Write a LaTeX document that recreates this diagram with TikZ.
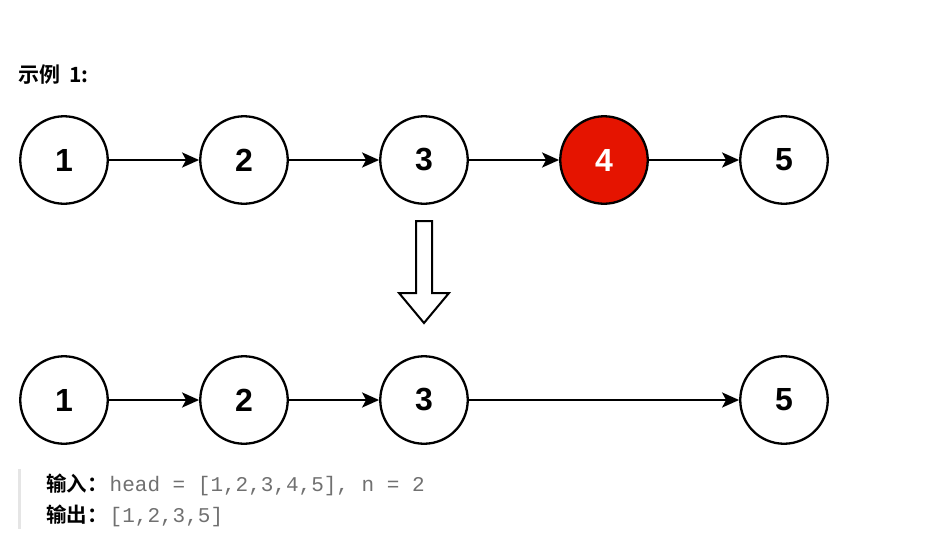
\documentclass[tikz,border=0pt]{standalone}
\usepackage{fontspec}
\setmainfont{Liberation Sans}
\setmonofont{Liberation Mono}
\newfontfamily\cjk{Noto Sans CJK SC}[BoldFont={* Bold}]
\usetikzlibrary{arrows.meta}
\definecolor{nodered}{HTML}{E51400}
\definecolor{codegray}{HTML}{707070}
\tikzset{
  lnode/.style={circle, draw=black, line width=2.3pt, minimum size=87.5pt, inner sep=0pt, fill=white, font=\fontsize{32}{32}\selectfont\bfseries},
  link/.style={line width=2.3pt, -{Stealth[length=17pt,width=15pt,inset=4pt]}},
}
\begin{document}
\begin{tikzpicture}[x=1pt,y=-1pt]
\useasboundingbox (0,0) rectangle (932,544);
\node[anchor=west, inner sep=0pt, font=\cjk\bfseries\fontsize{21}{21}\selectfont] (title) at (18,75) {示例\hspace{9pt}1:};
% top row
\node[lnode] (a1) at (64,160) {1};
\node[lnode] (a2) at (244,160) {2};
\node[lnode] (a3) at (424,160) {3};
\node[lnode, fill=nodered, text=white] (a4) at (604,160) {4};
\node[lnode] (a5) at (784,160) {5};
\draw[link] (a1) -- (a2);
\draw[link] (a2) -- (a3);
\draw[link] (a3) -- (a4);
\draw[link] (a4) -- (a5);
% bottom row
\node[lnode] (b1) at (64,400) {1};
\node[lnode] (b2) at (244,400) {2};
\node[lnode] (b3) at (424,400) {3};
\node[lnode] (b5) at (784,400) {5};
\draw[link] (b1) -- (b2);
\draw[link] (b2) -- (b3);
\draw[link] (b3) -- (b5);
% hollow arrow
\draw[line width=2pt, line join=miter, fill=white] (416,221) -- (432,221) -- (432,293) -- (449,293) -- (424,323) -- (399,293) -- (416,293) -- cycle;
% bottom text
\fill[black!10] (18,469) rectangle (21,529);
\node[anchor=west, inner sep=0pt, font=\fontsize{20.5}{20.5}\selectfont] (in) at (46,485) {{\cjk\bfseries 输入：}\hspace{2pt}{\ttfamily\fontsize{21}{21}\selectfont\color{codegray}head = [1,2,3,4,5], n = 2}};
\node[anchor=west, inner sep=0pt, font=\fontsize{20.5}{20.5}\selectfont] (out) at (46,516) {{\cjk\bfseries 输出：}\hspace{2pt}{\ttfamily\fontsize{21}{21}\selectfont\color{codegray}[1,2,3,5]}};
\end{tikzpicture}
\end{document}
